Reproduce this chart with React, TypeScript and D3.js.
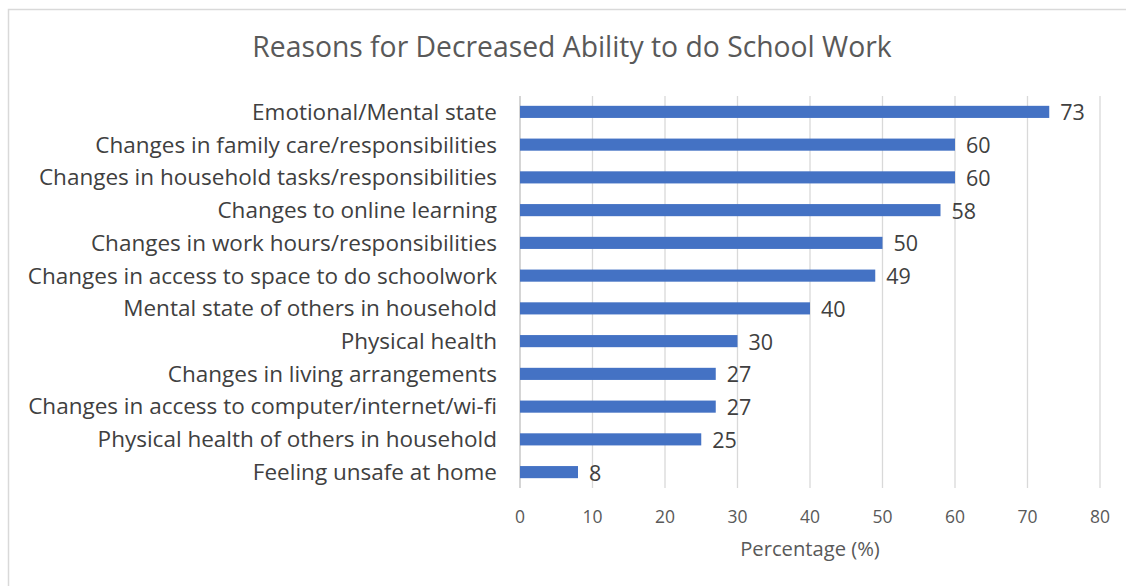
import React from "react";
import * as d3 from "d3";

const categories = [
  "Emotional/Mental state",
  "Changes in family care/responsibilities",
  "Changes in household tasks/responsibilities",
  "Changes to online learning",
  "Changes in work hours/responsibilities",
  "Changes in access to space to do schoolwork",
  "Mental state of others in household",
  "Physical health",
  "Changes in living arrangements",
  "Changes in access to computer/internet/wi-fi",
  "Physical health of others in household",
  "Feeling unsafe at home",
];
const values = [73, 60, 60, 58, 50, 49, 40, 30, 27, 27, 25, 8];
const xTicks = [0, 10, 20, 30, 40, 50, 60, 70, 80];
const title = "Reasons for Decreased Ability to do School Work";
const xTitle = "Percentage (%)";

const W = 1126;
const H = 586;
const FONT = "'Open Sans', sans-serif";

export default function App() {
  const left = 520, right = 1100, top = 96, bottom = 488;
  const x = d3.scaleLinear().domain([0, 80]).range([left, right]);
  const y = d3.scaleBand<string>().domain(categories).range([top, bottom]).paddingInner(0.63).paddingOuter(0.3);
  const bh = y.bandwidth();
  return (
    <svg width={W} height={H} style={{ position: "absolute", left: 0, top: 0, background: "#fff" }}>
      <rect x={8.5} y={9.5} width={W + 10} height={H + 10} fill="#fff" stroke="#d9d9d9" strokeWidth={1.5} />
      <text x={572} y={57} textAnchor="middle" fontFamily={FONT} fontSize={28.3} fill="#595959">{title}</text>
      {xTicks.map((t) => (
        <line key={t} x1={x(t)} x2={x(t)} y1={top} y2={bottom} stroke={t === 0 ? "#bfbfbf" : "#d9d9d9"} strokeWidth={1.3} />
      ))}
      {categories.map((c, i) => (
        <g key={c}>
          <rect x={x(0)} y={y(c)!} width={x(values[i]) - x(0)} height={bh} fill="#4472c4" />
          <text x={497} y={y(c)! + bh / 2} dy="0.35em" textAnchor="end" fontFamily={FONT} fontSize={22.5} fill="#404040">{c}</text>
          <text x={x(values[i]) + 11} y={y(c)! + bh / 2} dy="0.4em" textAnchor="start" fontFamily={FONT} fontSize={21.5} fill="#404040">{values[i]}</text>
        </g>
      ))}
      {xTicks.map((t) => (
        <text key={"l" + t} x={x(t)} y={523} textAnchor="middle" fontFamily={FONT} fontSize={17.5} fill="#595959">{t}</text>
      ))}
      <text x={810} y={556} textAnchor="middle" fontFamily={FONT} fontSize={20.2} fill="#595959">{xTitle}</text>
    </svg>
  );
}
